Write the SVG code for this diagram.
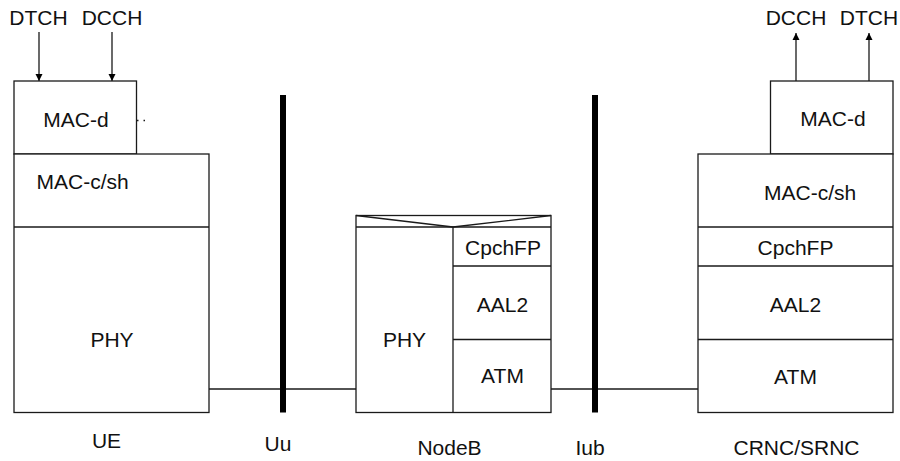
<svg xmlns="http://www.w3.org/2000/svg" width="900" height="461" viewBox="0 0 900 461">
<style>
  .box { fill: #fff; stroke: #1a1a1a; stroke-width: 1.3; }
  .ln { fill: none; stroke: #1a1a1a; stroke-width: 1.3; }
  .bar { fill: none; stroke: #000; stroke-width: 6; }
  text { font-family: "Liberation Sans", Arial, sans-serif; font-size: 21px; fill: #111; }
  .c { text-anchor: middle; }
</style>
<defs>
  <marker id="ah" viewBox="0 0 10 10" refX="10" refY="5" markerWidth="7" markerHeight="9" markerUnits="userSpaceOnUse" orient="auto">
    <path d="M0,0 L10,5 L0,10 Z" fill="#000"/>
  </marker>
</defs>
<rect width="900" height="461" fill="#fff"/>

<g id="connectors">
  <line class="ln" x1="39" y1="32" x2="39" y2="81" marker-end="url(#ah)"/>
  <line class="ln" x1="112" y1="32" x2="112" y2="81" marker-end="url(#ah)"/>
  <line class="ln" x1="796" y1="81" x2="796" y2="33" marker-end="url(#ah)"/>
  <line class="ln" x1="869" y1="81" x2="869" y2="33" marker-end="url(#ah)"/>
  <line class="ln" x1="209" y1="389" x2="356" y2="389"/>
  <line class="ln" x1="551" y1="389" x2="698" y2="389"/>
  <line class="ln" x1="137" y1="120.5" x2="147" y2="120.5" stroke-dasharray="1.5 5"/>
</g>

<g id="labels-top">
  <text class="c" x="38.5" y="25">DTCH</text>
  <text class="c" x="112" y="25">DCCH</text>
  <text class="c" x="796" y="25">DCCH</text>
  <text class="c" x="869" y="25">DTCH</text>
</g>

<g id="ue">
  <rect class="box" x="14" y="81" width="122.5" height="73"/>
  <text class="c" x="76" y="127">MAC-d</text>
  <rect class="box" x="14" y="154" width="195" height="258.5"/>
  <line class="ln" x1="14" y1="227" x2="209" y2="227"/>
  <text x="36.5" y="189">MAC-c/sh</text>
  <text class="c" x="112" y="347">PHY</text>
  <text class="c" x="106.5" y="448">UE</text>
</g>

<g id="uu">
  <line class="bar" x1="283" y1="95" x2="283" y2="412.5"/>
  <text class="c" x="278" y="451">Uu</text>
</g>

<g id="nodeb">
  <rect class="box" x="356" y="215.5" width="195" height="197"/>
  <line class="ln" x1="356" y1="227" x2="551" y2="227"/>
  <polyline class="ln" points="356,215.5 453,227 551,215.5"/>
  <line class="ln" x1="453" y1="227" x2="453" y2="412.5"/>
  <line class="ln" x1="453" y1="266" x2="551" y2="266"/>
  <line class="ln" x1="453" y1="339.5" x2="551" y2="339.5"/>
  <text class="c" x="404.5" y="347">PHY</text>
  <text class="c" x="503" y="255">CpchFP</text>
  <text class="c" x="502.5" y="311.5">AAL2</text>
  <text class="c" x="502.5" y="383">ATM</text>
  <text class="c" x="449.5" y="455">NodeB</text>
</g>

<g id="iub">
  <line class="bar" x1="595" y1="95" x2="595" y2="412.5"/>
  <text class="c" x="590" y="455">Iub</text>
</g>

<g id="crnc">
  <rect class="box" x="770.5" y="81" width="122.5" height="73"/>
  <text class="c" x="833" y="126">MAC-d</text>
  <rect class="box" x="698" y="154" width="195" height="258.5"/>
  <line class="ln" x1="698" y1="227" x2="893" y2="227"/>
  <line class="ln" x1="698" y1="266" x2="893" y2="266"/>
  <line class="ln" x1="698" y1="339.5" x2="893" y2="339.5"/>
  <text x="764" y="200">MAC-c/sh</text>
  <text class="c" x="795.5" y="255">CpchFP</text>
  <text class="c" x="795.5" y="311.5">AAL2</text>
  <text class="c" x="795.5" y="384">ATM</text>
  <text class="c" x="796.5" y="455">CRNC/SRNC</text>
</g>
</svg>
